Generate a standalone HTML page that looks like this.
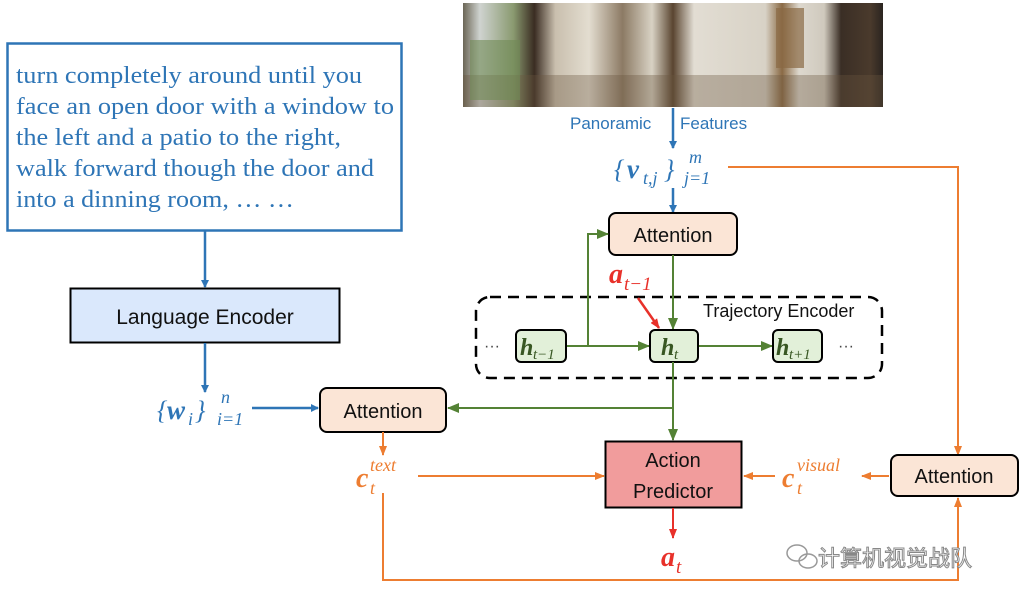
<!DOCTYPE html>
<html><head><meta charset="utf-8"><style>
html,body{margin:0;padding:0;background:#fff;width:1024px;height:604px;overflow:hidden}
svg{display:block}
.s{font-family:"Liberation Sans",sans-serif}
.m{font-family:"Liberation Serif",serif;font-weight:bold;font-style:italic}
.mi{font-family:"Liberation Serif",serif;font-style:italic}
</style></head><body>
<svg width="1024" height="604" viewBox="0 0 1024 604" xmlns="http://www.w3.org/2000/svg">
<defs>
<marker id="ab" markerWidth="8" markerHeight="8" refX="7" refY="4" orient="auto" markerUnits="userSpaceOnUse"><path d="M0,0 L8,4 L0,8z" fill="#2e75b6"/></marker>
<marker id="ag" markerWidth="12" markerHeight="10" refX="11" refY="5" orient="auto" markerUnits="userSpaceOnUse"><path d="M0,0 L12,5 L0,10z" fill="#548235"/></marker>
<marker id="ao" markerWidth="10" markerHeight="8" refX="9" refY="4" orient="auto" markerUnits="userSpaceOnUse"><path d="M0,0 L10,4 L0,8z" fill="#ed7d31"/></marker>
<marker id="ar" markerWidth="10" markerHeight="8" refX="9" refY="4" orient="auto" markerUnits="userSpaceOnUse"><path d="M0,0 L10,4 L0,8z" fill="#e8312a"/></marker>
<linearGradient id="pano" x1="0" x2="1">
<stop offset="0" stop-color="#6b6656"/><stop offset="0.04" stop-color="#cfd3d0"/><stop offset="0.12" stop-color="#8a9a70"/><stop offset="0.17" stop-color="#3a2c22"/><stop offset="0.22" stop-color="#c9bfae"/><stop offset="0.3" stop-color="#e3ddd0"/><stop offset="0.38" stop-color="#8c7a64"/><stop offset="0.45" stop-color="#d8d2c4"/><stop offset="0.5" stop-color="#5a4530"/><stop offset="0.55" stop-color="#e2ddd3"/><stop offset="0.72" stop-color="#d8d2c6"/><stop offset="0.76" stop-color="#8a6a45"/><stop offset="0.8" stop-color="#ddd8ce"/><stop offset="0.86" stop-color="#cfc9bd"/><stop offset="0.9" stop-color="#3a2e25"/><stop offset="0.97" stop-color="#4a3a2c"/><stop offset="1" stop-color="#2a2420"/>
</linearGradient>
</defs>

<rect x="7.5" y="43.5" width="394" height="187" fill="#fff" stroke="#2e75b6" stroke-width="2.5"/>
<g font-family="Liberation Serif,serif" font-size="24" fill="#2e75b6">
<text x="16" y="83" textLength="346" lengthAdjust="spacingAndGlyphs">turn completely around until you</text>
<text x="16" y="114" textLength="378" lengthAdjust="spacingAndGlyphs">face an open door with a window to</text>
<text x="16" y="145" textLength="325" lengthAdjust="spacingAndGlyphs">the left and a patio to the right,</text>
<text x="16" y="176" textLength="358" lengthAdjust="spacingAndGlyphs">walk forward though the door and</text>
<text x="16" y="207" textLength="278" lengthAdjust="spacingAndGlyphs">into a dinning room, … …</text>
</g>
<line x1="205" y1="231" x2="205" y2="287" stroke="#2e75b6" stroke-width="2.5" marker-end="url(#ab)"/>
<rect x="70.5" y="288.5" width="269" height="54" fill="#dae8fc" stroke="#000" stroke-width="2"/>
<text class="s" x="205" y="324" font-size="21" text-anchor="middle" fill="#111">Language Encoder</text>
<line x1="205" y1="343" x2="205" y2="392" stroke="#2e75b6" stroke-width="2.5" marker-end="url(#ab)"/>
<text class="mi" x="157" y="419" font-size="26" fill="#2e75b6">{</text>
<text class="m" x="167" y="419" font-size="27" fill="#2e75b6">w</text>
<text class="mi" x="188" y="425" font-size="18" fill="#2e75b6">i</text>
<text class="mi" x="195" y="419" font-size="26" fill="#2e75b6">}</text>
<text class="mi" x="221" y="403" font-size="18" fill="#2e75b6">n</text>
<text class="mi" x="217" y="425" font-size="18" fill="#2e75b6">i=1</text>
<line x1="252" y1="408" x2="318" y2="408" stroke="#2e75b6" stroke-width="2.5" marker-end="url(#ab)"/>
<rect x="320" y="388" width="126" height="44" rx="7" fill="#fbe5d6" stroke="#000" stroke-width="2"/>
<text class="s" x="383" y="418" font-size="20" text-anchor="middle" fill="#111">Attention</text>

<rect x="463" y="3" width="420" height="104" fill="url(#pano)"/>
<rect x="463" y="75" width="420" height="32" fill="#6a5640" opacity="0.35"/>
<rect x="470" y="40" width="50" height="60" fill="#6f8a55" opacity="0.6"/>
<rect x="776" y="8" width="28" height="60" fill="#8a6a45" opacity="0.7"/>
<text class="s" x="570" y="129" font-size="17" fill="#2e75b6">Panoramic</text>
<text class="s" x="680" y="129" font-size="17" fill="#2e75b6">Features</text>
<line x1="673" y1="108" x2="673" y2="148" stroke="#2e75b6" stroke-width="2.5" marker-end="url(#ab)"/>
<text class="mi" x="614" y="178" font-size="26" fill="#2e75b6">{</text>
<text class="m" x="627" y="178" font-size="27" fill="#2e75b6">v</text>
<text class="mi" x="643" y="184" font-size="18" fill="#2e75b6">t,j</text>
<text class="mi" x="664" y="178" font-size="26" fill="#2e75b6">}</text>
<text class="mi" x="689" y="163" font-size="18" fill="#2e75b6">m</text>
<text class="mi" x="684" y="184" font-size="18" fill="#2e75b6">j=1</text>
<line x1="673" y1="188" x2="673" y2="212" stroke="#2e75b6" stroke-width="2.5" marker-end="url(#ab)"/>
<polyline points="728,167 958,167 958,455" fill="none" stroke="#ed7d31" stroke-width="2" marker-end="url(#ao)"/>

<rect x="609" y="213" width="128" height="42" rx="7" fill="#fbe5d6" stroke="#000" stroke-width="2"/>
<text class="s" x="673" y="242" font-size="20" text-anchor="middle" fill="#111">Attention</text>

<rect x="476" y="297" width="406" height="81" rx="14" fill="none" stroke="#000" stroke-width="2.5" stroke-dasharray="11,7"/>
<text class="s" x="703" y="317" font-size="18" fill="#111">Trajectory Encoder</text>
<line x1="673" y1="255" x2="673" y2="329" stroke="#548235" stroke-width="2" marker-end="url(#ag)"/>
<polyline points="588,346 588,234 608,234" fill="none" stroke="#548235" stroke-width="2" marker-end="url(#ag)"/>
<line x1="566" y1="346" x2="649" y2="346" stroke="#548235" stroke-width="2" marker-end="url(#ag)"/>
<line x1="698" y1="346" x2="772" y2="346" stroke="#548235" stroke-width="2" marker-end="url(#ag)"/>
<text class="s" x="484" y="351" font-size="16" fill="#444">···</text>
<text class="s" x="838" y="351" font-size="16" fill="#444">···</text>
<rect x="516" y="330" width="50" height="32" rx="5" fill="#e2f0d9" stroke="#000" stroke-width="2"/>
<text class="m" x="520" y="355" font-size="24" fill="#385723">h</text>
<text class="mi" x="533" y="359" font-size="15" fill="#385723">t−1</text>
<rect x="650" y="330" width="48" height="32" rx="5" fill="#e2f0d9" stroke="#000" stroke-width="2"/>
<text class="m" x="661" y="355" font-size="24" fill="#385723">h</text>
<text class="mi" x="674" y="359" font-size="15" fill="#385723">t</text>
<rect x="773" y="330" width="49" height="32" rx="5" fill="#e2f0d9" stroke="#000" stroke-width="2"/>
<text class="m" x="776" y="355" font-size="24" fill="#385723">h</text>
<text class="mi" x="789" y="359" font-size="15" fill="#385723">t+1</text>
<text class="m" x="609" y="283" font-size="28" fill="#e8312a">a</text>
<text class="mi" x="624" y="290" font-size="19" fill="#e8312a">t−1</text>
<line x1="638" y1="298" x2="659" y2="328" stroke="#e8312a" stroke-width="2.5" marker-end="url(#ar)"/>

<line x1="673" y1="362" x2="673" y2="440" stroke="#548235" stroke-width="2" marker-end="url(#ag)"/>
<line x1="673" y1="408" x2="448" y2="408" stroke="#548235" stroke-width="2" marker-end="url(#ag)"/>
<rect x="605.5" y="441.5" width="136" height="66" fill="#f19c9c" stroke="#000" stroke-width="2"/>
<text class="s" x="673" y="467" font-size="20" text-anchor="middle" fill="#111">Action</text>
<text class="s" x="673" y="498" font-size="20" text-anchor="middle" fill="#111">Predictor</text>
<line x1="673" y1="508" x2="673" y2="538" stroke="#e8312a" stroke-width="2" marker-end="url(#ar)"/>
<text class="m" x="661" y="566" font-size="28" fill="#e8312a">a</text>
<text class="mi" x="676" y="573" font-size="19" fill="#e8312a">t</text>

<line x1="383" y1="432" x2="383" y2="455" stroke="#ed7d31" stroke-width="2" marker-end="url(#ao)"/>
<text class="m" x="356" y="487" font-size="28" fill="#ed7d31">c</text>
<text class="mi" x="370" y="471" font-size="18" fill="#ed7d31">text</text>
<text class="mi" x="370" y="494" font-size="18" fill="#ed7d31">t</text>
<line x1="418" y1="476" x2="604" y2="476" stroke="#ed7d31" stroke-width="2" marker-end="url(#ao)"/>
<text class="m" x="782" y="487" font-size="28" fill="#ed7d31">c</text>
<text class="mi" x="797" y="471" font-size="18" fill="#ed7d31">visual</text>
<text class="mi" x="797" y="494" font-size="18" fill="#ed7d31">t</text>
<line x1="775" y1="476" x2="744" y2="476" stroke="#ed7d31" stroke-width="2" marker-end="url(#ao)"/>
<line x1="889" y1="476" x2="862" y2="476" stroke="#ed7d31" stroke-width="2" marker-end="url(#ao)"/>
<rect x="891" y="455" width="127" height="41" rx="7" fill="#fbe5d6" stroke="#000" stroke-width="2"/>
<text class="s" x="954" y="483" font-size="20" text-anchor="middle" fill="#111">Attention</text>
<polyline points="383,493 383,580 958,580 958,498" fill="none" stroke="#ed7d31" stroke-width="2" marker-end="url(#ao)"/>

<g stroke="#999" fill="none" stroke-width="1.5">
<ellipse cx="797" cy="553" rx="10" ry="8"/><ellipse cx="808" cy="561" rx="9" ry="7"/>
</g>
<text x="818" y="566" font-family="'Noto Sans CJK SC',sans-serif" font-size="22" fill="#fff" stroke="#888" stroke-width="1">计算机视觉战队</text>
</svg>
</body></html>
